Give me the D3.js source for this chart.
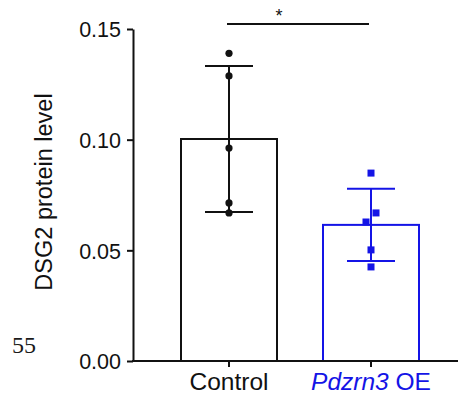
<!DOCTYPE html>
<html>
<head>
<meta charset="utf-8">
<script src="https://cdn.jsdelivr.net/npm/d3@7"></script>
<style>
  body { margin: 0; background: #fff; }
  svg { display: block; font-family: "Liberation Sans", Arial, sans-serif; }
</style>
</head>
<body>
<div id="chart"></div>
<script>
// data
const groups = ['Control', 'Pdzrn3 OE']
const means = [0.1003, 0.0615]
const sds = [0.0330, 0.0163]
const controlPoints = [0.139, 0.1288, 0.0962, 0.0714, 0.0669]
const oePoints = [0.0849, 0.0669, 0.0628, 0.0502, 0.0425]
const yTicks = [0, 0.05, 0.10, 0.15]
const yLabel = 'DSG2 protein level'

const W = 461, H = 399
const blue = '#1414e6'
const colors = ['#111', blue]

const svg = d3.select('#chart').append('svg')
  .attr('width', W).attr('height', H)

const y = d3.scaleLinear().domain([0, 0.15]).range([361, 29])
const x = d3.scalePoint().domain(groups).range([229, 371])
const barW = 96
const capW = 48

// bars
svg.selectAll('rect.bar')
  .data(groups)
  .enter().append('rect')
  .attr('class', 'bar')
  .attr('x', d => x(d) - barW / 2)
  .attr('y', (d, i) => y(means[i]))
  .attr('width', barW)
  .attr('height', (d, i) => y(0) - y(means[i]))
  .attr('fill', 'none')
  .attr('stroke', (d, i) => colors[i])
  .attr('stroke-width', 2)

// error bars (mean +/- sd)
groups.forEach((g, i) => {
  const cx = x(g)
  const top = y(means[i] + sds[i])
  const bot = y(means[i] - sds[i])
  const eg = svg.append('g').attr('stroke', colors[i]).attr('stroke-width', 2)
  eg.append('line').attr('x1', cx).attr('x2', cx).attr('y1', top).attr('y2', bot)
  eg.append('line').attr('x1', cx - capW / 2).attr('x2', cx + capW / 2).attr('y1', top).attr('y2', top)
  eg.append('line').attr('x1', cx - capW / 2).attr('x2', cx + capW / 2).attr('y1', bot).attr('y2', bot)
})

// individual points
svg.selectAll('circle.pt')
  .data(controlPoints)
  .enter().append('circle')
  .attr('class', 'pt')
  .attr('cx', x('Control'))
  .attr('cy', d => y(d))
  .attr('r', 3.6)
  .attr('fill', '#111')

const oeJitter = [0, 5, -5, 0, 0] // px, as scattered in the figure
svg.selectAll('rect.pt')
  .data(oePoints)
  .enter().append('rect')
  .attr('class', 'pt')
  .attr('x', (d, i) => x('Pdzrn3 OE') + oeJitter[i] - 3.5)
  .attr('y', d => y(d) - 3.5)
  .attr('width', 7)
  .attr('height', 7)
  .attr('fill', blue)

// y axis
const yAxis = svg.append('g')
  .attr('transform', 'translate(133,0)')
  .call(d3.axisLeft(y).tickValues(yTicks).tickFormat(d3.format('.2f')).tickSize(6).tickSizeOuter(0))
yAxis.select('.domain').attr('stroke', '#111').attr('stroke-width', 2)
yAxis.selectAll('.tick line').attr('stroke', '#111').attr('stroke-width', 2)
yAxis.selectAll('.tick text')
  .attr('x', -12)
  .attr('dy', '0.36em')
  .attr('fill', '#111')
  .style('font-size', '21.5px')
  .style('font-family', '"Liberation Sans", Arial, sans-serif')

// x axis
svg.append('line')
  .attr('x1', 132).attr('x2', 458)
  .attr('y1', y(0)).attr('y2', y(0))
  .attr('stroke', '#111').attr('stroke-width', 2)
svg.selectAll('line.xtick')
  .data(groups)
  .enter().append('line')
  .attr('class', 'xtick')
  .attr('x1', d => x(d)).attr('x2', d => x(d))
  .attr('y1', y(0)).attr('y2', y(0) + 6)
  .attr('stroke', '#111').attr('stroke-width', 2)

svg.append('text')
  .attr('x', x('Control')).attr('y', 390)
  .attr('text-anchor', 'middle')
  .attr('fill', '#111')
  .style('font-size', '24.5px')
  .text('Control')

const oeLabel = svg.append('text')
  .attr('x', x('Pdzrn3 OE')).attr('y', 390)
  .attr('text-anchor', 'middle')
  .attr('fill', blue)
  .style('font-size', '24.5px')
oeLabel.append('tspan').style('font-style', 'italic').text('Pdzrn3')
oeLabel.append('tspan').text(' OE')

// y label
svg.append('text')
  .attr('transform', 'translate(52,192) rotate(-90)')
  .attr('text-anchor', 'middle')
  .attr('fill', '#111')
  .style('font-size', '23.5px')
  .text(yLabel)

// significance bracket
svg.append('line')
  .attr('x1', 227).attr('x2', 369)
  .attr('y1', 24).attr('y2', 24)
  .attr('stroke', '#111').attr('stroke-width', 2)
svg.append('text')
  .attr('x', 279).attr('y', 22)
  .attr('text-anchor', 'middle')
  .attr('fill', '#111')
  .style('font-size', '18px')
  .text('*')

// stray panel number
svg.append('text')
  .attr('x', 12).attr('y', 353)
  .attr('fill', '#1a1a1a')
  .style('font-family', '"Liberation Serif", "Times New Roman", serif')
  .style('font-size', '24px')
  .text('55')
</script>
</body>
</html>
